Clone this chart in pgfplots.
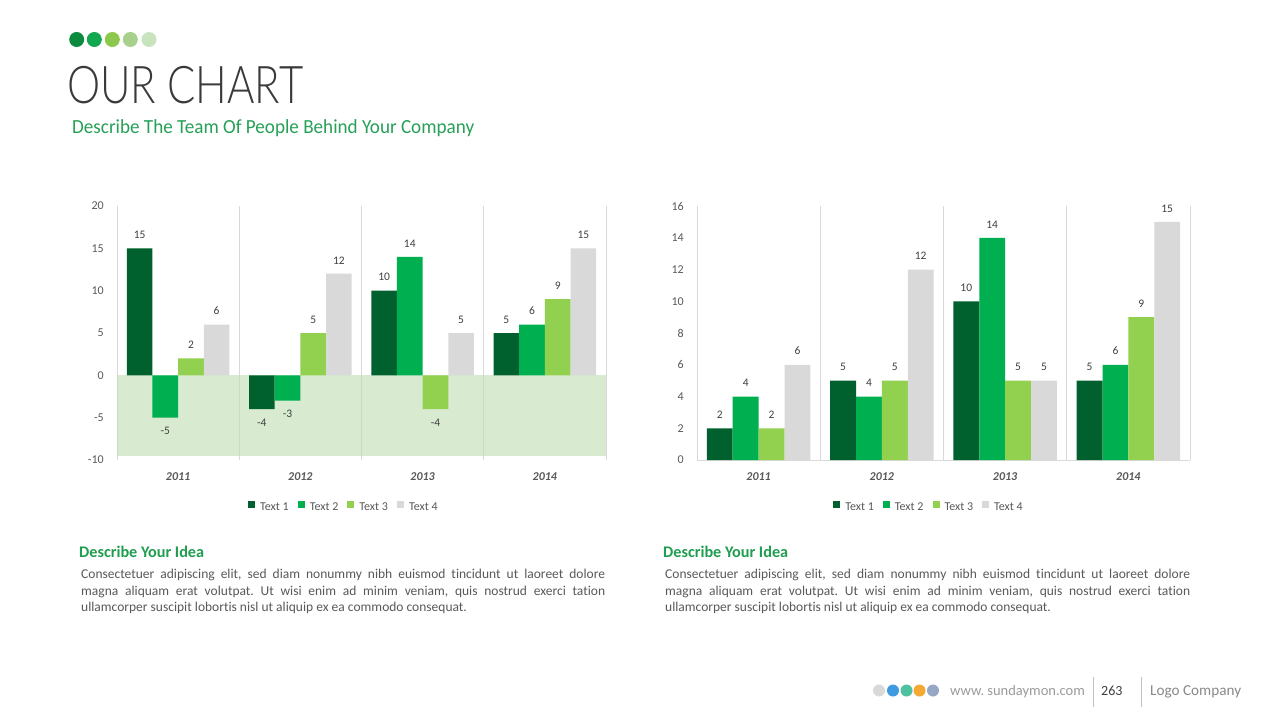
\documentclass[border=0pt]{standalone}
\usepackage{pgfplots}
\pgfplotsset{compat=1.18}
\usepackage{fontspec}
\usepackage{graphicx}
\setmainfont{Carlito}[Ligatures=NoCommon]
\newfontfamily\titlefont{Lato Light}
\definecolor{cA}{HTML}{00612E}
\definecolor{cB}{HTML}{00AF50}
\definecolor{cC}{HTML}{92D050}
\definecolor{cD}{HTML}{D9D9D9}
\definecolor{shadegreen}{HTML}{D8EBD0}
\definecolor{shadeline}{HTML}{C8DCC0}
\definecolor{gridgray}{HTML}{D9D9D9}
\definecolor{labelgray}{HTML}{595959}
\definecolor{labeldark}{HTML}{404040}
\definecolor{titlegray}{HTML}{3A3A3A}
\definecolor{subgreen}{HTML}{27A058}
\definecolor{headgreen}{HTML}{1F9E4F}
\definecolor{textgray}{HTML}{595959}
\definecolor{dotA}{HTML}{0C8A3E}
\definecolor{dotB}{HTML}{12A84F}
\definecolor{dotC}{HTML}{8CC84B}
\definecolor{dotD}{HTML}{A6D08C}
\definecolor{dotE}{HTML}{C8E4BE}
\definecolor{fA}{HTML}{D9D9D9}
\definecolor{fB}{HTML}{3E9BE0}
\definecolor{fC}{HTML}{4FC1A0}
\definecolor{fD}{HTML}{F5A833}
\definecolor{fE}{HTML}{97A8C4}
\definecolor{urlgray}{HTML}{9B9B9B}
\definecolor{sepgray}{HTML}{BFBFBF}
\definecolor{numgray}{HTML}{3F3F3F}
\definecolor{logogray}{HTML}{8A8A8A}

\pgfplotsset{
  slidechart/.style={
    scale only axis, ybar, bar width=0.21,
    /pgf/number format/assume math mode=true,
    xmin=-0.5, xmax=3.5,
    xtick={0,1,2,3}, xticklabels={2011,2012,2013,2014},
    major tick length=0pt, minor tick length=0pt,
    minor xtick={-0.5,0.5,1.5,2.5,3.5},
    xminorgrids, minor x grid style={draw=gridgray, line width=0.8pt},
    axis x line=bottom, axis y line=left,
    y axis line style={draw=none},
    x tick label style={font=\fontsize{12}{12}\selectfont\bfseries\itshape, text=labelgray, inner sep=0pt, anchor=center, yshift=-17pt},
    y tick label style={font=\fontsize{12}{12}\selectfont, text=labelgray, inner sep=0pt, anchor=east, xshift=-13pt},
    nodes near coords,
    nodes near coords style={font=\fontsize{11.5}{11}\selectfont, text=labeldark, inner xsep=0pt, inner ysep=9.5pt},
    every axis plot/.append style={draw=none},
    legend columns=4,
    legend image code/.code={\fill[#1] (0pt,-0.5pt) rectangle (7pt,6.5pt);},
    legend style={draw=none, fill=none, font=\fontsize{12}{12}\selectfont, text=labelgray, anchor=center,
      /tikz/every odd column/.append style={column sep=3pt},
      /tikz/every even column/.append style={column sep=7pt}, inner sep=0pt},
  }
}

\begin{document}
\frenchspacing
\begin{tikzpicture}
\fill[white] (0pt,0pt) rectangle (1280pt,-720pt);

% top dots
\fill[dotA] (76.7pt,-39.5pt) circle (7.5pt);
\fill[dotB] (94.3pt,-39.5pt) circle (7.5pt);
\fill[dotC] (112.3pt,-39.5pt) circle (7.5pt);
\fill[dotD] (130.3pt,-39.5pt) circle (7.5pt);
\fill[dotE] (149pt,-39.5pt) circle (7.5pt);

% title
\node[anchor=base west, inner sep=0pt, text=titlegray] at (67pt,-103pt)
  {\resizebox{236pt}{\height}{\fontsize{52}{52}\titlefont OUR CHART}};
\node[anchor=base west, inner sep=0pt, text=subgreen] at (72pt,-133pt)
  {\resizebox{402pt}{\height}{\fontsize{20}{20}\selectfont Describe The Team Of People Behind Your Company}};

% left chart
\begin{axis}[slidechart,
  at={(117pt,-460pt)}, anchor=south west,
  width=489pt, height=254pt,
  ymin=-10, ymax=20, ytick={-10,-5,0,5,10,15,20},
  x axis line style={draw=none},
  legend style={at={(0.464,-0.186)}},
]
\fill[shadegreen] (axis cs:-0.5,0) rectangle (axis cs:3.5,-9.5);
\foreach \xx in {-0.5,0.5,1.5,2.5,3.5}{
  \edef\tmp{\noexpand\draw[shadeline, line width=0.8pt] (axis cs:\xx,0) -- (axis cs:\xx,-9.5);}\tmp
}
\addplot[fill=cA, bar shift=-0.315] coordinates {(0,15) (1,-4) (2,10) (3,5)};
\addplot[fill=cB, bar shift=-0.105] coordinates {(0,-5) (1,-3) (2,14) (3,6)};
\addplot[fill=cC, bar shift=0.105] coordinates {(0,2) (1,5) (2,-4) (3,9)};
\addplot[fill=cD, bar shift=0.315] coordinates {(0,6) (1,12) (2,5) (3,15)};
\legend{Text 1, Text 2, Text 3, Text 4}
\end{axis}

% right chart
\begin{axis}[slidechart,
  at={(697pt,-460pt)}, anchor=south west,
  width=493pt, height=254pt,
  ymin=0, ymax=16, ytick={0,2,4,6,8,10,12,14,16},
  x axis line style={draw=gridgray, line width=0.8pt, -},
  legend style={at={(0.4706,-0.186)}},
]
\addplot[fill=cA, bar shift=-0.315] coordinates {(0,2) (1,5) (2,10) (3,5)};
\addplot[fill=cB, bar shift=-0.105] coordinates {(0,4) (1,4) (2,14) (3,6)};
\addplot[fill=cC, bar shift=0.105] coordinates {(0,2) (1,5) (2,5) (3,9)};
\addplot[fill=cD, bar shift=0.315] coordinates {(0,6) (1,12) (2,5) (3,15)};
\legend{Text 1, Text 2, Text 3, Text 4}
\end{axis}

% text blocks
\node[anchor=base west, inner sep=0pt, text=headgreen, font=\fontsize{16.2}{16}\selectfont\bfseries] at (79pt,-557pt) {Describe Your Idea};
\node[anchor=base west, inner sep=0pt, text=headgreen, font=\fontsize{16.2}{16}\selectfont\bfseries] at (663pt,-557pt) {Describe Your Idea};

\node[anchor=north west, inner sep=0pt, text width=524pt, align=justify, text=textgray,
  font=\fontsize{13.5}{16.5}\selectfont] at (81pt,-569pt)
  {Consectetuer adipiscing elit, sed diam nonummy nibh euismod tincidunt ut laoreet dolore\linebreak magna aliquam erat volutpat. Ut wisi enim ad minim veniam, quis nostrud exerci tation\linebreak ullamcorper suscipit lobortis nisl ut aliquip ex ea commodo consequat.};
\node[anchor=north west, inner sep=0pt, text width=525pt, align=justify, text=textgray,
  font=\fontsize{13.5}{16.5}\selectfont] at (665pt,-569pt)
  {Consectetuer adipiscing elit, sed diam nonummy nibh euismod tincidunt ut laoreet dolore\linebreak magna aliquam erat volutpat. Ut wisi enim ad minim veniam, quis nostrud exerci tation\linebreak ullamcorper suscipit lobortis nisl ut aliquip ex ea commodo consequat.};

% footer
\fill[fA] (879pt,-690.5pt) circle (6pt);
\fill[fB] (893pt,-690.5pt) circle (6pt);
\fill[fC] (906.5pt,-690.5pt) circle (6pt);
\fill[fD] (919.5pt,-690.5pt) circle (6pt);
\fill[fE] (933pt,-690.5pt) circle (6pt);
\node[anchor=base west, inner sep=0pt, text=urlgray, font=\fontsize{14.5}{14}\selectfont] at (950pt,-695pt) {www. sundaymon.com};
\draw[sepgray, line width=0.8pt] (1093pt,-677pt) -- (1093pt,-707pt);
\node[anchor=base west, inner sep=0pt, text=numgray, font=\fontsize{14}{13}\selectfont] at (1101pt,-695pt) {263};
\draw[sepgray, line width=0.8pt] (1141pt,-677pt) -- (1141pt,-707pt);
\node[anchor=base west, inner sep=0pt, text=logogray, font=\fontsize{15.2}{14}\selectfont] at (1150pt,-695pt) {Logo Company};
\end{tikzpicture}
\end{document}
